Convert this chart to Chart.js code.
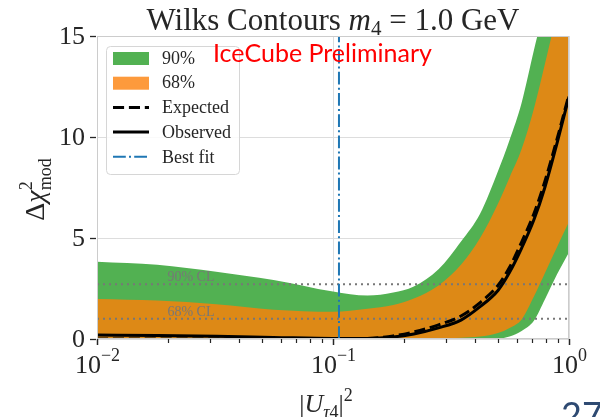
<!DOCTYPE html>
<html>
<head>
<meta charset="utf-8">
<title>Wilks Contours</title>
<script src="https://cdn.jsdelivr.net/npm/chart.js@4.4.1/dist/chart.umd.min.js"></script>
<style>
    html, body { margin: 0; padding: 0; background: #fff; }
    #wilks-chart { display: block; }
</style>
</head>
<body>
<canvas id="wilks-chart" width="600" height="417"></canvas>
<script>
// --- DATA ---
// |U_tau4|^2 grid shared by every curve
const mixing = [0.010, 0.018, 0.032, 0.056, 0.10, 0.14, 0.18, 0.22, 0.28, 0.35, 0.42, 0.50, 0.56, 0.63, 0.71, 0.79, 0.89, 1.0];

const band90Upper = [3.83, 3.68, 3.33, 2.92, 2.35, 2.15, 2.30, 2.60, 3.45, 4.85, 6.20, 8.30, 9.85, 11.7, 14.3, 16.5, 19.0, 22.0];
const band90Lower = [0, 0, 0, 0, 0, 0, 0, 0, 0, 0, 0, 0.02, 0.12, 0.40, 0.90, 1.95, 3.20, 4.30];
const band68Upper = [1.98, 1.90, 1.72, 1.45, 1.35, 1.50, 1.68, 2.00, 2.65, 3.70, 5.00, 6.70, 8.00, 9.40, 11.4, 13.6, 16.2, 19.0];
const band68Lower = [0, 0, 0, 0, 0, 0, 0, 0, 0.02, 0.06, 0.12, 0.30, 0.55, 0.97, 2.10, 3.25, 4.55, 5.80];

const expected = [0, 0, 0, 0, 0, 0.03, 0.15, 0.35, 0.70, 1.15, 1.80, 2.65, 3.55, 4.80, 6.20, 7.80, 9.90, 12.1];
const observed = [0.20, 0.17, 0.13, 0.08, 0.03, 0.03, 0.10, 0.25, 0.55, 0.95, 1.60, 2.40, 3.30, 4.50, 5.90, 7.50, 9.70, 12.0];

const bestFit = 0.106;
const clLevels = [2.71, 1.0];
const clLabels = ['90% CL', '68% CL'];
const clLabelAt = 0.025;

const yTicks = [0, 5, 10, 15];
const xDecades = [-2, -1, 0];

// --- STYLE ---
const SERIF = '"Liberation Serif", "DejaVu Serif", serif';
const colors = {
    green: '#52b152',
    orange: '#dd8916',
    legendOrange: '#fd9a3c',
    bestFit: '#1f77b4',
    cl: '#777777',
    grid: '#dddddd',
    frame: '#cccccc',
    text: '#262626',
};

const toPoints = ys => mixing.map((x, i) => ({ x, y: ys[i] }));
const isDecade = v => Math.abs(Math.log10(v) - Math.round(Math.log10(v))) < 1e-6;

// draws a run of text pieces (for sub/superscripts); pieces with stack:true share x with the previous piece
function drawParts(ctx, parts, x, y, align = 'center') {
    let cursor = 0, lastX = 0, lastW = 0, width = 0;
    parts.forEach(p => {
        ctx.font = p.font;
        const w = ctx.measureText(p.text).width;
        if (p.stack) {
            p.px = lastX;
            cursor = lastX + Math.max(lastW, w);
        } else {
            p.px = cursor;
            lastX = cursor;
            lastW = w;
            cursor += w;
        }
        width = Math.max(width, cursor);
    });
    const x0 = align === 'center' ? x - width / 2 : align === 'right' ? x - width : x;
    ctx.textAlign = 'left';
    ctx.textBaseline = 'alphabetic';
    parts.forEach(p => {
        ctx.font = p.font;
        ctx.fillText(p.text, x0 + p.px, y + (p.dy || 0));
    });
}

const legendItems = [
    { label: '90%', kind: 'box', color: colors.green },
    { label: '68%', kind: 'box', color: colors.legendOrange },
    { label: 'Expected', kind: 'line', color: '#000', width: 3, dash: [11.1, 4.8] },
    { label: 'Observed', kind: 'line', color: '#000', width: 3, dash: [] },
    { label: 'Best fit', kind: 'line', color: colors.bestFit, width: 2, dash: [12.8, 3.2, 2, 3.2] },
];

// --- DECORATION PLUGIN ---
const decorPlugin = {
    id: 'wilksDecor',
    afterDatasetsDraw(chart) {
        const { ctx, scales: { x, y } } = chart;
        ctx.save();
        ctx.fillStyle = colors.cl;
        ctx.font = `14px ${SERIF}`;
        ctx.textAlign = 'center';
        ctx.textBaseline = 'alphabetic';
        clLevels.forEach((lvl, i) => {
            ctx.fillText(clLabels[i], x.getPixelForValue(clLabelAt), y.getPixelForValue(lvl) - 3);
        });
        ctx.restore();
    },
    afterDraw(chart) {
        const { ctx, chartArea: a, scales: { x, y } } = chart;
        ctx.save();

        // frame
        ctx.strokeStyle = colors.frame;
        ctx.lineWidth = 1;
        ctx.strokeRect(a.left + 0.5, a.top + 0.5, a.right - a.left - 1, a.bottom - a.top - 1);

        // y ticks + labels
        ctx.strokeStyle = colors.text;
        ctx.fillStyle = colors.text;
        ctx.lineWidth = 1.3;
        ctx.font = `26px ${SERIF}`;
        ctx.textAlign = 'right';
        ctx.textBaseline = 'middle';
        yTicks.forEach(v => {
            const py = Math.round(y.getPixelForValue(v)) + 0.5;
            ctx.beginPath();
            ctx.moveTo(a.left - 7, py);
            ctx.lineTo(a.left - 1, py);
            ctx.stroke();
            ctx.fillText(String(v), a.left - 12, py + 1);
        });

        // x ticks (major decades, minor 2..9)
        xDecades.forEach((d, i) => {
            const major = Math.pow(10, d);
            const px = Math.round(x.getPixelForValue(major)) + 0.5;
            ctx.lineWidth = 1.5;
            ctx.beginPath();
            ctx.moveTo(px, a.bottom);
            ctx.lineTo(px, a.bottom + 6);
            ctx.stroke();
            if (i < xDecades.length - 1) {
                ctx.lineWidth = 1.2;
                for (let k = 2; k <= 9; k++) {
                    const mx = Math.round(x.getPixelForValue(k * major)) + 0.5;
                    ctx.beginPath();
                    ctx.moveTo(mx, a.bottom);
                    ctx.lineTo(mx, a.bottom + 4);
                    ctx.stroke();
                }
            }
            drawParts(ctx, [
                { text: '10', font: `26px ${SERIF}` },
                { text: d === 0 ? '0' : '\u2212' + Math.abs(d), font: `18px ${SERIF}`, dy: -12 },
            ], px, a.bottom + 34);
        });

        // axis labels
        drawParts(ctx, [
            { text: '|', font: `26px ${SERIF}` },
            { text: 'U', font: `italic 26px ${SERIF}` },
            { text: '\u03c4', font: `italic 18px ${SERIF}`, dy: 6 },
            { text: '4', font: `18px ${SERIF}`, dy: 6 },
            { text: '|', font: `26px ${SERIF}` },
            { text: '2', font: `18px ${SERIF}`, dy: -11 },
        ], (a.left + a.right) / 2 - 7, a.bottom + 73);

        ctx.save();
        ctx.translate(44, (a.top + a.bottom) / 2 + 2);
        ctx.rotate(-Math.PI / 2);
        drawParts(ctx, [
            { text: '\u0394', font: `28px ${SERIF}` },
            { text: '\u03c7', font: `italic 28px ${SERIF}` },
            { text: '2', font: `18px ${SERIF}`, dy: -12 },
            { text: 'mod', font: `18px ${SERIF}`, dy: 7, stack: true },
        ], 0, 0);
        ctx.restore();

        // title
        drawParts(ctx, [
            { text: 'Wilks Contours ', font: `31px ${SERIF}` },
            { text: 'm', font: `italic 31px ${SERIF}` },
            { text: '4', font: `21px ${SERIF}`, dy: 5 },
            { text: ' = 1.0 GeV', font: `31px ${SERIF}` },
        ], (a.left + a.right) / 2, 30);

        // legend
        const lx = a.left + 9, ly = a.top + 10, lw = 133, lh = 128;
        ctx.beginPath();
        ctx.roundRect(lx + 0.5, ly + 0.5, lw, lh, 4);
        ctx.fillStyle = 'rgba(255,255,255,0.85)';
        ctx.fill();
        ctx.strokeStyle = '#d6d6d6';
        ctx.lineWidth = 1;
        ctx.stroke();
        legendItems.forEach((item, i) => {
            const cy = ly + 12 + i * 24.7;
            const sx = lx + 7;
            if (item.kind === 'box') {
                ctx.fillStyle = item.color;
                ctx.fillRect(sx, cy - 6, 36, 13);
            } else {
                ctx.strokeStyle = item.color;
                ctx.lineWidth = item.width;
                ctx.setLineDash(item.dash);
                ctx.beginPath();
                ctx.moveTo(sx, cy);
                ctx.lineTo(sx + 36, cy);
                ctx.stroke();
                ctx.setLineDash([]);
            }
            ctx.fillStyle = colors.text;
            ctx.font = `18px ${SERIF}`;
            ctx.textAlign = 'left';
            ctx.textBaseline = 'middle';
            ctx.fillText(item.label, sx + 49, cy + 1);
        });

        // preliminary tag, sits over the legend corner
        ctx.fillStyle = '#ff0000';
        ctx.font = '25px Lato, "Open Sans", sans-serif';
        ctx.textAlign = 'left';
        ctx.textBaseline = 'alphabetic';
        ctx.fillText('IceCube Preliminary', 213, 62);

        // slide number
        ctx.fillStyle = '#2e4a72';
        ctx.font = '36px Lato, "Open Sans", sans-serif';
        ctx.fillText('27', 561, 428);

        ctx.restore();
    }
};

// --- CHART ---
const bandStyle = { borderWidth: 0, pointRadius: 0, cubicInterpolationMode: 'monotone' };

new Chart(document.getElementById('wilks-chart'), {
    type: 'line',
    data: {
        datasets: [
            { ...bandStyle, label: '90%', data: toPoints(band90Upper), backgroundColor: colors.green, fill: '+1', order: 10 },
            { ...bandStyle, label: '90% lower', data: toPoints(band90Lower), fill: false, order: 10 },
            { ...bandStyle, label: '68%', data: toPoints(band68Upper), backgroundColor: colors.orange, fill: '+1', order: 9 },
            { ...bandStyle, label: '68% lower', data: toPoints(band68Lower), fill: false, order: 9 },
            ...clLevels.map((lvl, i) => ({
                label: clLabels[i],
                data: [{ x: mixing[0], y: lvl }, { x: mixing[mixing.length - 1], y: lvl }],
                borderColor: colors.cl,
                borderWidth: 2,
                borderDash: [2, 4],
                pointRadius: 0,
                fill: false,
                order: 8,
            })),
            {
                label: 'Observed',
                data: toPoints(observed),
                borderColor: '#000',
                borderWidth: 3,
                pointRadius: 0,
                cubicInterpolationMode: 'monotone',
                fill: false,
                order: 6,
            },
            {
                label: 'Expected',
                data: toPoints(expected),
                borderColor: '#000',
                borderWidth: 3,
                borderDash: [11.1, 4.8],
                pointRadius: 0,
                cubicInterpolationMode: 'monotone',
                fill: false,
                order: 5,
            },
            {
                label: 'Best fit',
                data: [{ x: bestFit, y: yTicks[0] }, { x: bestFit, y: yTicks[yTicks.length - 1] }],
                borderColor: colors.bestFit,
                borderWidth: 2,
                borderDash: [12.8, 3.2, 2, 3.2],
                pointRadius: 0,
                fill: false,
                order: 4,
            },
        ]
    },
    options: {
        responsive: false,
        animation: false,
        devicePixelRatio: 1,
        layout: { padding: { left: 97, right: 31, top: 36, bottom: 78 } },
        scales: {
            x: {
                type: 'logarithmic',
                min: 0.01,
                max: 1,
                ticks: { display: false },
                grid: {
                    drawTicks: false,
                    color: ctx => (ctx.tick && isDecade(ctx.tick.value)) ? colors.grid : 'rgba(0,0,0,0)',
                },
                border: { display: false },
            },
            y: {
                type: 'linear',
                min: 0,
                max: 15,
                ticks: { display: false, stepSize: 5 },
                grid: { drawTicks: false, color: colors.grid },
                border: { display: false },
            }
        },
        plugins: {
            legend: { display: false },
            tooltip: { enabled: false },
        }
    },
    plugins: [decorPlugin]
});
</script>
</body>
</html>
